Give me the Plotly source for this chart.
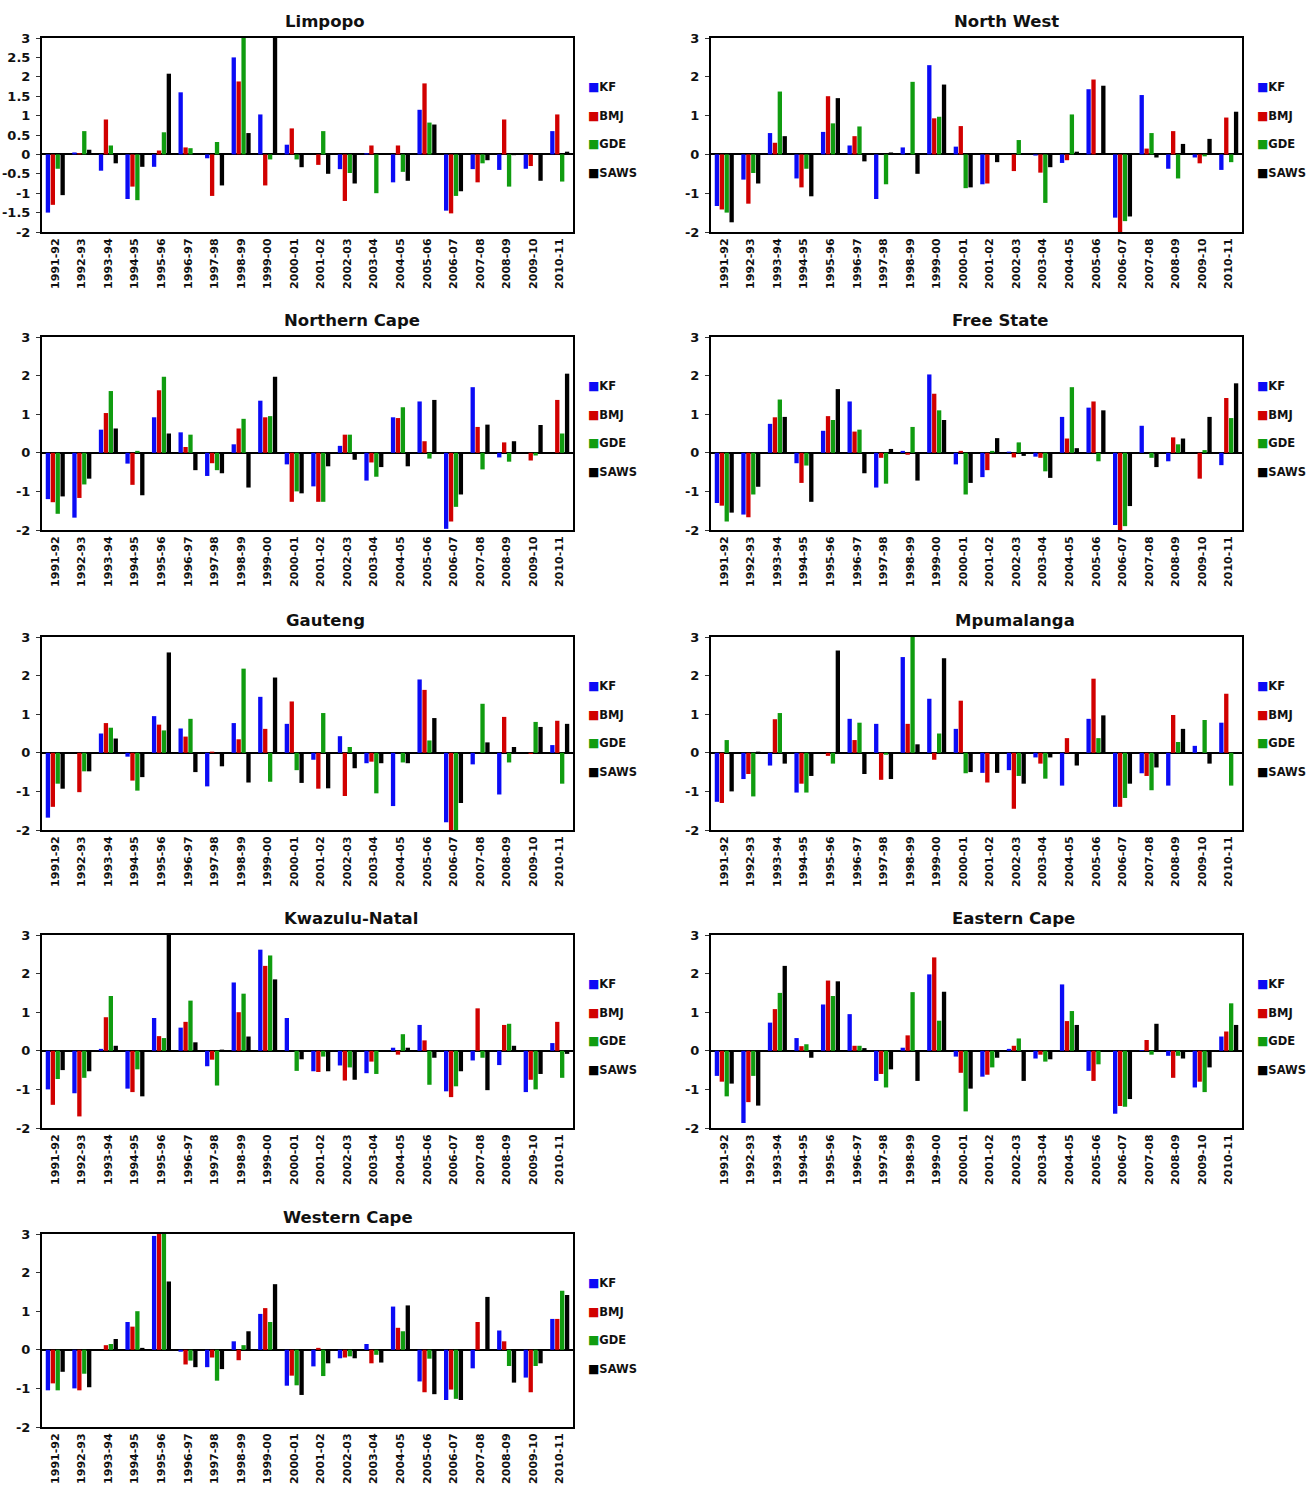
import plotly.graph_objects as go

# ---------------- data ----------------
seasons = ["1991-92", "1992-93", "1993-94", "1994-95", "1995-96", "1996-97", "1997-98",
           "1998-99", "1999-00", "2000-01", "2001-02", "2002-03", "2003-04", "2004-05",
           "2005-06", "2006-07", "2007-08", "2008-09", "2009-10", "2010-11"]
series_names = ["KF", "BMJ", "GDE", "SAWS"]

limpopo_kf = [-1.5, 0.05, -0.42, -1.15, -0.32, 1.6, -0.1, 2.5, 1.03, 0.25, 0.0, -0.38, 0.03, -0.72, 1.15, -1.45, -0.38, -0.4, -0.37, 0.6]
limpopo_bmj = [-1.3, 0.03, 0.9, -0.83, 0.1, 0.18, -1.07, 1.88, -0.8, 0.67, -0.27, -1.2, 0.23, 0.23, 1.83, -1.52, -0.72, 0.9, -0.3, 1.03]
limpopo_gde = [-0.37, 0.6, 0.23, -1.18, 0.57, 0.16, 0.32, 3.2, -0.13, -0.13, 0.6, -0.48, -1.0, -0.45, 0.82, -1.07, -0.23, -0.83, 0.0, -0.7]
limpopo_saws = [-1.05, 0.12, -0.23, -0.32, 2.08, 0.0, -0.8, 0.55, 3.4, -0.33, -0.5, -0.75, 0.0, -0.68, 0.77, -0.95, -0.15, -0.02, -0.68, 0.07]

northwest_kf = [-1.33, -0.65, 0.55, -0.62, 0.58, 0.23, -1.15, 0.18, 2.3, 0.2, -0.77, 0.0, -0.03, -0.22, 1.68, -1.63, 1.53, -0.37, -0.08, -0.4]
northwest_bmj = [-1.42, -1.27, 0.3, -0.85, 1.5, 0.47, 0.0, 0.0, 0.93, 0.73, -0.75, -0.43, -0.47, -0.15, 1.93, -2.05, 0.15, 0.6, -0.23, 0.95]
northwest_gde = [-1.5, -0.48, 1.62, -0.37, 0.8, 0.72, -0.77, 1.87, 0.97, -0.87, 0.0, 0.37, -1.25, 1.03, 0.0, -1.72, 0.55, -0.62, -0.05, -0.2]
northwest_saws = [-1.75, -0.75, 0.47, -1.08, 1.45, -0.18, 0.05, -0.5, 1.8, -0.85, -0.2, 0.0, -0.33, 0.07, 1.77, -1.6, -0.08, 0.27, 0.4, 1.1]

ncape_kf = [-1.2, -1.68, 0.6, -0.28, 0.92, 0.53, -0.6, 0.22, 1.35, -0.3, -0.87, 0.18, -0.72, 0.92, 1.33, -1.97, 1.7, -0.12, 0.0, 0.0]
ncape_bmj = [-1.28, -1.17, 1.03, -0.83, 1.62, 0.15, -0.27, 0.63, 0.92, -1.27, -1.27, 0.47, -0.25, 0.9, 0.3, -1.78, 0.67, 0.27, -0.2, 1.37]
ncape_gde = [-1.58, -0.82, 1.6, 0.05, 1.97, 0.47, -0.45, 0.88, 0.95, -1.0, -1.27, 0.47, -0.62, 1.18, -0.15, -1.4, -0.43, -0.23, -0.07, 0.5]
ncape_saws = [-1.13, -0.67, 0.63, -1.1, 0.5, -0.45, -0.53, -0.9, 1.97, -1.05, -0.35, -0.18, -0.37, -0.35, 1.37, -1.08, 0.73, 0.3, 0.72, 2.05]

freestate_kf = [-1.3, -1.6, 0.75, -0.27, 0.57, 1.33, -0.9, 0.05, 2.03, -0.3, -0.63, 0.03, -0.1, 0.93, 1.17, -1.87, 0.7, -0.22, 0.0, -0.32]
freestate_bmj = [-1.37, -1.67, 0.92, -0.78, 0.95, 0.55, -0.13, -0.05, 1.53, 0.05, -0.45, -0.12, -0.13, 0.37, 1.33, -2.05, 0.0, 0.4, -0.67, 1.42]
freestate_gde = [-1.78, -1.08, 1.38, -0.33, 0.85, 0.6, -0.8, 0.67, 1.1, -1.08, 0.05, 0.27, -0.48, 1.7, -0.22, -1.9, -0.13, 0.22, 0.07, 0.9]
freestate_saws = [-1.55, -0.88, 0.93, -1.27, 1.65, -0.53, 0.1, -0.72, 0.85, -0.78, 0.38, -0.08, -0.65, 0.12, 1.1, -1.38, -0.37, 0.37, 0.93, 1.8]

gauteng_kf = [-1.68, 0.0, 0.5, -0.1, 0.95, 0.63, -0.87, 0.77, 1.45, 0.75, -0.18, 0.43, -0.27, -1.38, 1.9, -1.8, -0.3, -1.08, 0.0, 0.2]
gauteng_bmj = [-1.4, -1.02, 0.77, -0.72, 0.73, 0.42, 0.03, 0.35, 0.62, 1.33, -0.93, -1.12, -0.23, 0.0, 1.63, -2.1, 0.0, 0.93, -0.03, 0.83]
gauteng_gde = [-0.8, -0.48, 0.65, -0.98, 0.58, 0.88, 0.0, 2.18, -0.75, -0.45, 1.03, 0.15, -1.05, -0.25, 0.32, -2.1, 1.27, -0.25, 0.8, -0.8]
gauteng_saws = [-0.93, -0.48, 0.37, -0.63, 2.6, -0.5, -0.35, -0.77, 1.95, -0.78, -0.92, -0.4, -0.27, -0.27, 0.9, -1.3, 0.27, 0.15, 0.67, 0.75]

mpumalanga_kf = [-1.27, -0.68, -0.33, -1.03, 0.0, 0.88, 0.75, 2.48, 1.4, 0.62, -0.52, -0.45, -0.12, -0.85, 0.88, -1.4, -0.53, -0.85, 0.18, 0.78]
mpumalanga_bmj = [-1.3, -0.55, 0.87, -0.8, -0.08, 0.33, -0.7, 0.75, -0.18, 1.35, -0.77, -1.45, -0.28, 0.38, 1.92, -1.4, -0.6, 0.98, 0.0, 1.53]
mpumalanga_gde = [0.33, -1.13, 1.03, -1.03, -0.28, 0.78, -0.05, 3.1, 0.5, -0.53, 0.0, -0.6, -0.67, 0.0, 0.38, -1.17, -0.97, 0.28, 0.85, -0.85]
mpumalanga_saws = [-1.0, 0.03, -0.28, -0.6, 2.65, -0.55, -0.68, 0.22, 2.45, -0.5, -0.52, -0.8, -0.12, -0.33, 0.97, -0.8, -0.38, 0.62, -0.28, 0.0]

kzn_kf = [-1.0, -1.1, 0.05, -0.98, 0.85, 0.6, -0.4, 1.77, 2.62, 0.85, -0.53, -0.38, -0.58, 0.08, 0.67, -1.05, -0.25, -0.37, -1.07, 0.2]
kzn_bmj = [-1.4, -1.7, 0.87, -1.07, 0.38, 0.75, -0.23, 1.0, 2.2, 0.0, -0.55, -0.77, -0.28, -0.1, 0.27, -1.2, 1.1, 0.67, -0.75, 0.75]
kzn_gde = [-0.73, -0.7, 1.42, -0.48, 0.33, 1.3, -0.9, 1.48, 2.47, -0.52, -0.15, -0.43, -0.6, 0.43, -0.88, -0.92, -0.18, 0.7, -1.0, -0.7]
kzn_saws = [-0.5, -0.53, 0.13, -1.18, 3.3, 0.22, 0.03, 0.37, 1.85, -0.22, -0.53, -0.75, 0.0, 0.08, -0.18, -0.53, -1.02, 0.13, -0.6, -0.08]

ecape_kf = [-0.65, -1.87, 0.73, 0.33, 1.2, 0.95, -0.78, 0.08, 1.98, -0.15, -0.67, 0.05, -0.2, 1.72, -0.52, -1.63, 0.02, -0.13, -0.95, 0.37]
ecape_bmj = [-0.8, -1.33, 1.08, 0.12, 1.82, 0.13, -0.6, 0.4, 2.42, -0.57, -0.62, 0.13, -0.1, 0.77, -0.78, -1.43, 0.28, -0.7, -0.8, 0.5]
ecape_gde = [-1.18, -0.65, 1.5, 0.17, 1.42, 0.13, -0.95, 1.52, 0.78, -1.57, -0.43, 0.32, -0.28, 1.03, -0.35, -1.45, -0.1, -0.13, -1.07, 1.23]
ecape_saws = [-0.85, -1.42, 2.2, -0.18, 1.8, 0.07, -0.48, -0.78, 1.53, -0.98, -0.18, -0.78, -0.22, 0.67, 0.0, -1.25, 0.7, -0.2, -0.43, 0.67]

wcape_kf = [-1.05, -1.0, 0.0, 0.72, 2.95, -0.05, -0.45, 0.22, 0.93, -0.93, -0.43, -0.22, 0.15, 1.12, -0.82, -1.3, -0.48, 0.5, -0.72, 0.8]
wcape_bmj = [-0.87, -1.05, 0.12, 0.6, 3.1, -0.38, -0.2, -0.27, 1.08, -0.67, 0.05, -0.2, -0.35, 0.57, -1.1, -1.03, 0.72, 0.22, -1.1, 0.8]
wcape_gde = [-1.05, -0.62, 0.15, 1.0, 3.2, -0.28, -0.8, 0.12, 0.72, -0.92, -0.68, -0.17, -0.13, 0.48, -0.23, -1.27, 0.0, -0.42, -0.42, 1.53]
wcape_saws = [-0.57, -0.97, 0.28, 0.05, 1.77, -0.45, -0.5, 0.48, 1.7, -1.17, -0.35, -0.22, -0.33, 1.15, -1.15, -1.3, 1.37, -0.85, -0.35, 1.42]

limpopo_ticks = [-2, -1.5, -1, -0.5, 0, 0.5, 1, 1.5, 2, 2.5, 3]
limpopo_ticklabels = ["-2", "-1.5", "-1", "-0.5", "0", "0.5", "1", "1.5", "2", "2.5", "3"]
other_ticks = [-2, -1, 0, 1, 2, 3]
other_ticklabels = ["-2", "-1", "0", "1", "2", "3"]

panels = [
    ("Limpopo", [limpopo_kf, limpopo_bmj, limpopo_gde, limpopo_saws]),
    ("North West", [northwest_kf, northwest_bmj, northwest_gde, northwest_saws]),
    ("Northern Cape", [ncape_kf, ncape_bmj, ncape_gde, ncape_saws]),
    ("Free State", [freestate_kf, freestate_bmj, freestate_gde, freestate_saws]),
    ("Gauteng", [gauteng_kf, gauteng_bmj, gauteng_gde, gauteng_saws]),
    ("Mpumalanga", [mpumalanga_kf, mpumalanga_bmj, mpumalanga_gde, mpumalanga_saws]),
    ("Kwazulu-Natal", [kzn_kf, kzn_bmj, kzn_gde, kzn_saws]),
    ("Eastern Cape", [ecape_kf, ecape_bmj, ecape_gde, ecape_saws]),
    ("Western Cape", [wcape_kf, wcape_bmj, wcape_gde, wcape_saws]),
]

# ---------------- layout / style ----------------
W, H = 1308, 1488
colors = ["#0b0bf5", "#d10000", "#109c10", "#000000"]
FONT = "DejaVu Sans"

# plot-area boxes in page pixels: (left, right), (top, bottom)
col_x = [(42, 573), (711, 1242)]
row_y = [(38, 232), (337, 530), (637, 830), (935, 1128), (1234, 1427)]
title_x = [325, 1007, 352, 1000, 325, 1015, 351, 1013, 348]
title_y = [22, 320, 620, 918, 1217]

fig = go.Figure()
annotations = []


def px_x(v):
    return v / W


def px_y(v):
    return 1 - v / H


for i, (name, vals) in enumerate(panels):
    n = i + 1
    r, c = divmod(i, 2)
    x0, x1 = col_x[c]
    y0, y1 = row_y[r]
    xa = "x" if n == 1 else f"x{n}"
    ya = "y" if n == 1 else f"y{n}"
    for s, sname in enumerate(series_names):
        fig.add_trace(go.Bar(x=seasons, y=vals[s], name=sname, marker_color=colors[s],
                             marker_line_width=0, xaxis=xa, yaxis=ya, showlegend=False))
    if n == 1:
        tv, tt = limpopo_ticks, limpopo_ticklabels
    else:
        tv, tt = other_ticks, other_ticklabels
    fig.update_layout({
        f"xaxis{'' if n == 1 else n}": dict(
            domain=[px_x(x0), px_x(x1)], anchor=ya, type="category",
            showline=True, mirror=True, linecolor="black", linewidth=2,
            showgrid=False, zeroline=False, ticks="", tickangle=-90,
            tickfont=dict(family=FONT, size=11, color="#111111", weight="bold"),
            automargin=False, fixedrange=True),
        f"yaxis{'' if n == 1 else n}": dict(
            domain=[px_y(y1), px_y(y0)], anchor=xa, range=[-2, 3],
            tickvals=tv, ticktext=tt,
            showline=True, mirror=True, linecolor="black", linewidth=2,
            showgrid=False, zeroline=True, zerolinecolor="black", zerolinewidth=2,
            ticks="outside", ticklen=4, tickcolor="#333333", tickwidth=1,
            ticklabelstandoff=3,
            tickfont=dict(family=FONT, size=13, color="#111111", weight="bold"),
            automargin=False, fixedrange=True),
    })
    # panel title
    annotations.append(dict(text=f"<b>{name}</b>", x=px_x(title_x[i]), y=px_y(title_y[r]),
                            xref="paper", yref="paper", xanchor="center", yanchor="middle",
                            showarrow=False, font=dict(family=FONT, size=16.5, color="#111111")))
    # legend (one per panel)
    lx = x1 + 13
    for s, sname in enumerate(series_names):
        ly = y0 + 49 + s * 28.7
        annotations.append(dict(
            text=f'<span style="color:{colors[s]};font-size:12px">■</span><b>{sname}</b>',
            x=px_x(lx), y=px_y(ly), xref="paper", yref="paper",
            xanchor="left", yanchor="middle", showarrow=False,
            font=dict(family=FONT, size=11.5, color="#111111")))

fig.update_layout(
    width=W, height=H, margin=dict(l=0, r=0, t=0, b=0),
    paper_bgcolor="white", plot_bgcolor="white",
    barmode="group", bargap=0.26, bargroupgap=0.12,
    showlegend=False, annotations=annotations,
    font=dict(family=FONT, color="black"),
)

fig.write_html("out.html", config={"displayModeBar": False, "staticPlot": True},
               post_script="document.body.style.margin='0px';")
